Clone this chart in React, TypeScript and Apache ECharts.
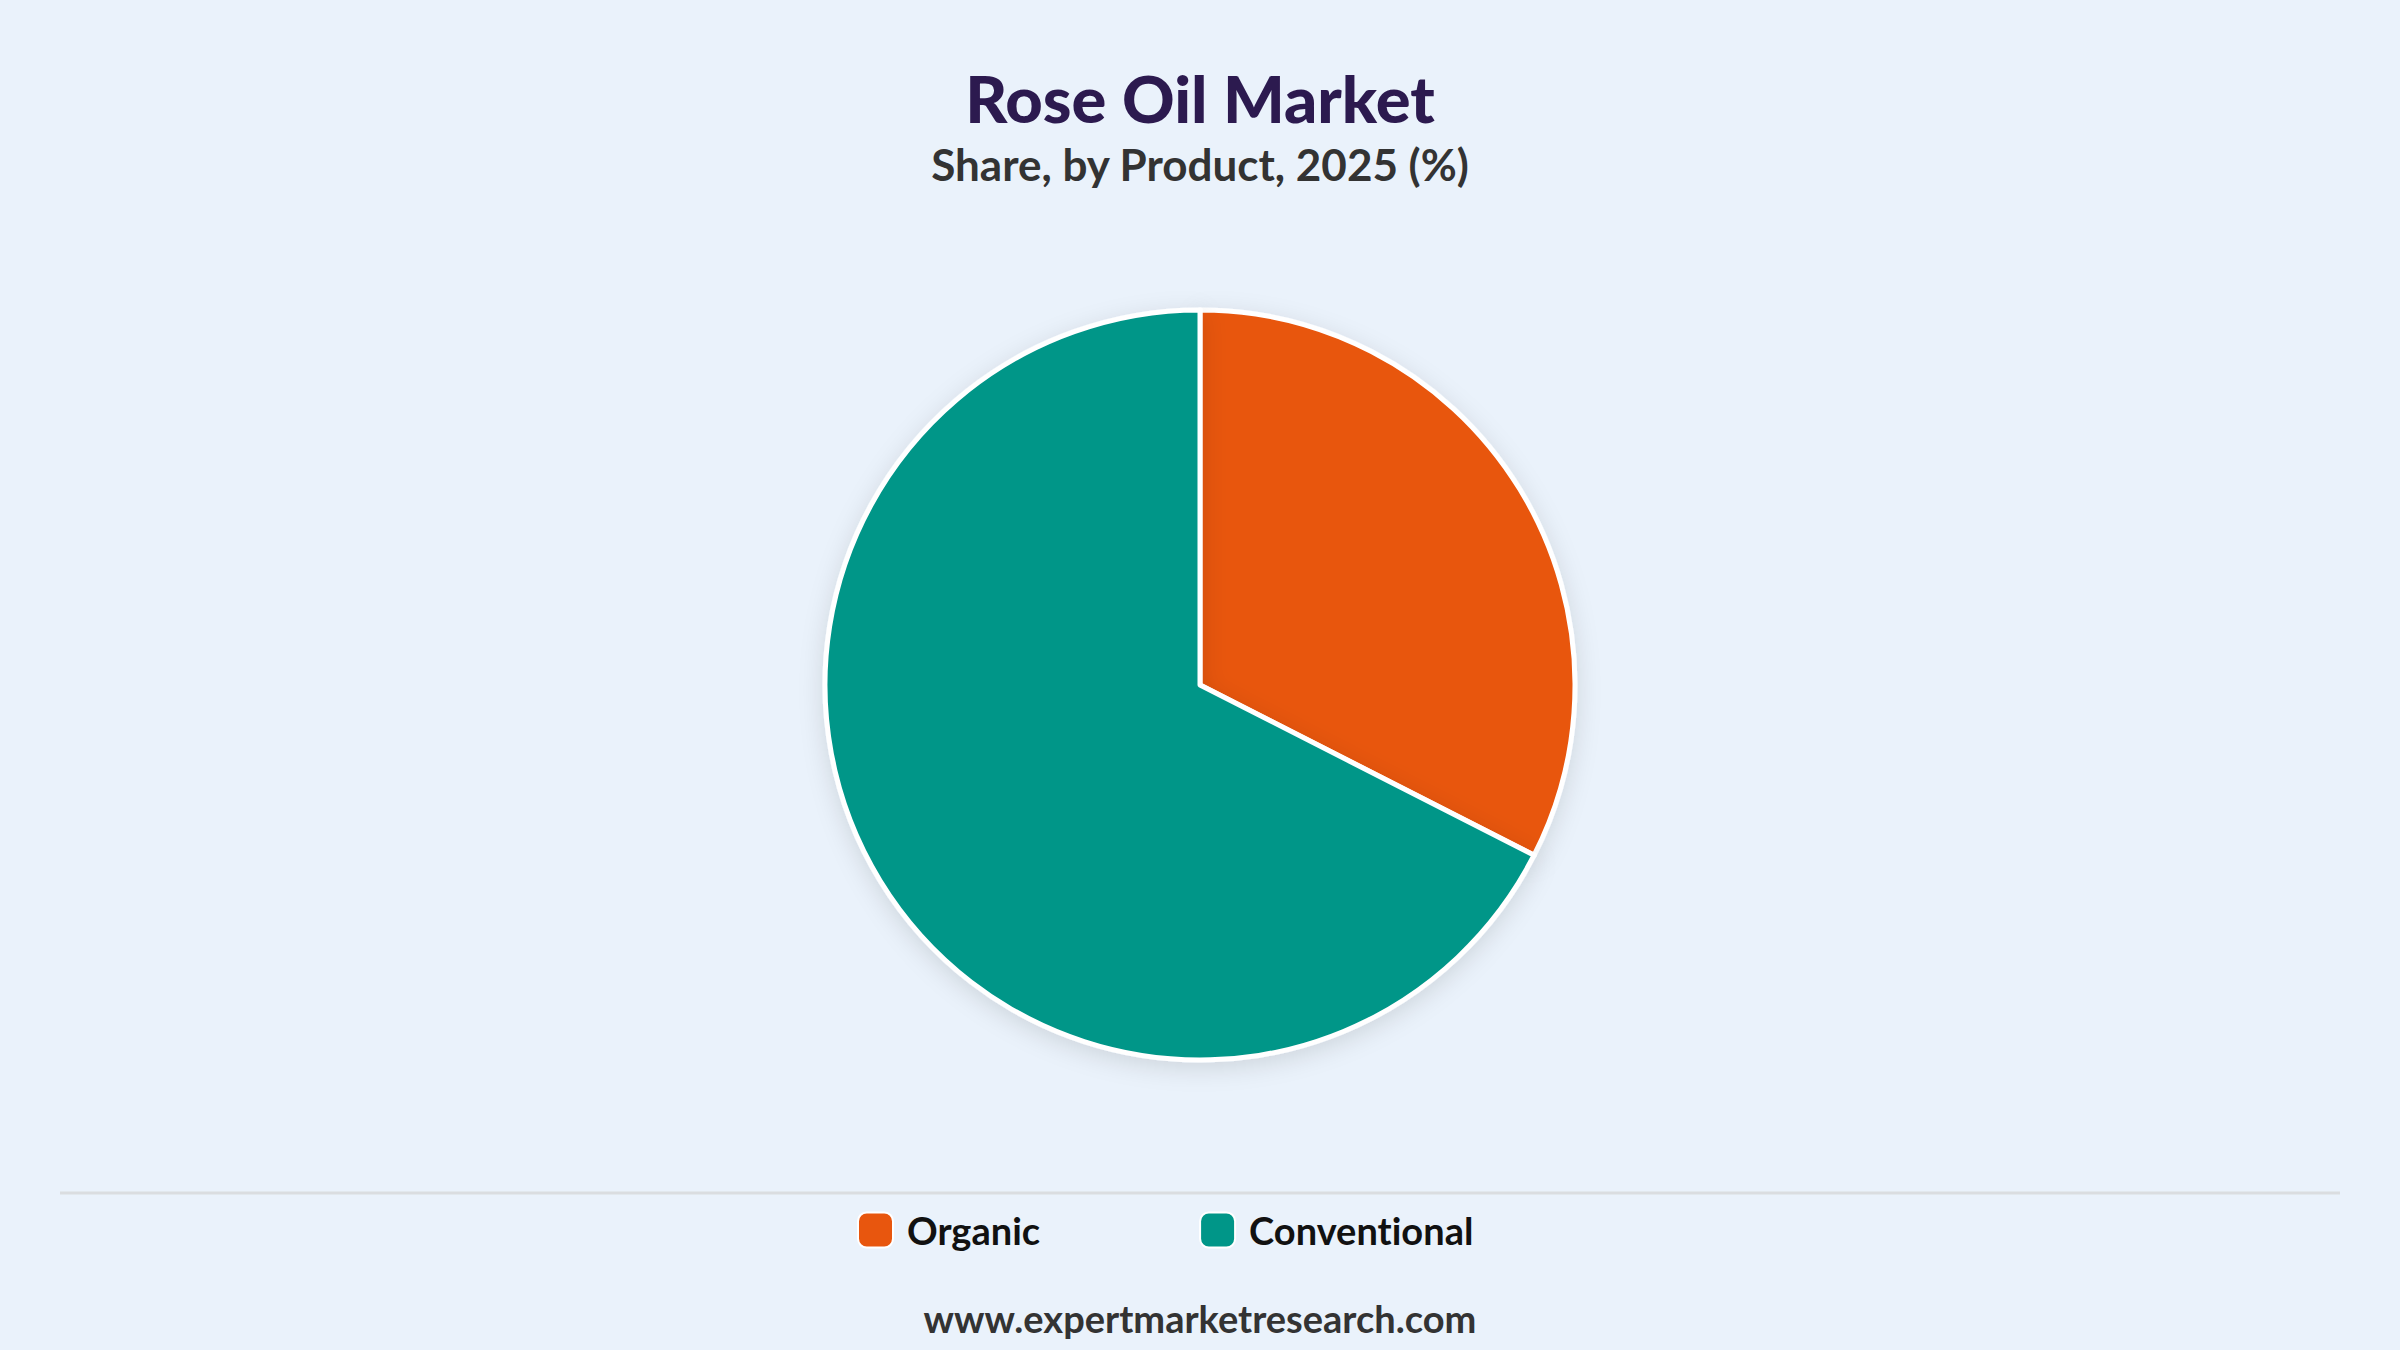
import { useEffect, useRef } from 'react';
import * as echarts from 'echarts';

const categories = ['Organic', 'Conventional'];
const shares = [32.5, 67.5];
const colors = ['#E8560E', '#009688'];

const FONT = 'Lato, "Noto Sans", sans-serif';

export default function App() {
  const chartRef = useRef<HTMLDivElement>(null);

  useEffect(() => {
    document.body.style.margin = '0';
    if (!chartRef.current) return;
    const chart = echarts.init(chartRef.current, null, { renderer: 'svg' });

    chart.setOption({
      animation: false,
      backgroundColor: '#EAF2FB',
      title: [
        {
          text: 'Rose Oil Market',
          left: 'center',
          top: 60,
          textStyle: { fontFamily: FONT, fontSize: 65, fontWeight: 900, color: '#2C1A4F' },
        },
        {
          text: 'Share, by Product, 2025 (%)',
          left: 'center',
          top: 137,
          textStyle: { fontFamily: FONT, fontSize: 44, fontWeight: 'bold', color: '#333333' },
        },
      ],
      legend: {
        data: categories,
        left: 852,
        top: 1206,
        icon: 'roundRect',
        itemWidth: 35,
        itemHeight: 35,
        itemGap: 159,
        textStyle: { fontFamily: FONT, fontSize: 38, fontWeight: 'bold', color: '#111111', padding: [0, 0, 0, 9] },
      },
      graphic: [
        {
          type: 'line',
          shape: { x1: 60, y1: 1193, x2: 2340, y2: 1193 },
          style: { stroke: '#DADDE0', lineWidth: 3 },
        },
        {
          type: 'text',
          left: 'center',
          top: 1299,
          style: {
            text: 'www.expertmarketresearch.com',
            fontFamily: FONT,
            fontSize: 38,
            fontWeight: 'bold',
            fill: '#333333',
          },
        },
      ],
      series: [
        {
          type: 'pie',
          center: [1200, 685],
          radius: 375,
          startAngle: 90,
          clockwise: true,
          label: { show: false },
          labelLine: { show: false },
          itemStyle: {
            borderColor: '#ffffff',
            borderWidth: 5,
            shadowBlur: 24,
            shadowOffsetY: 6,
            shadowColor: 'rgba(0,0,0,0.12)',
          },
          data: categories.map((name, i) => ({
            name,
            value: shares[i],
            itemStyle: { color: colors[i] },
          })),
        },
      ],
    });

    return () => {
      chart.dispose();
    };
  }, []);

  return (
    <>
      <style>{'text { font-variant-ligatures: none; font-feature-settings: "liga" 0; }'}</style>
      <div ref={chartRef} style={{ width: 2400, height: 1350 }} />
    </>
  );
}
